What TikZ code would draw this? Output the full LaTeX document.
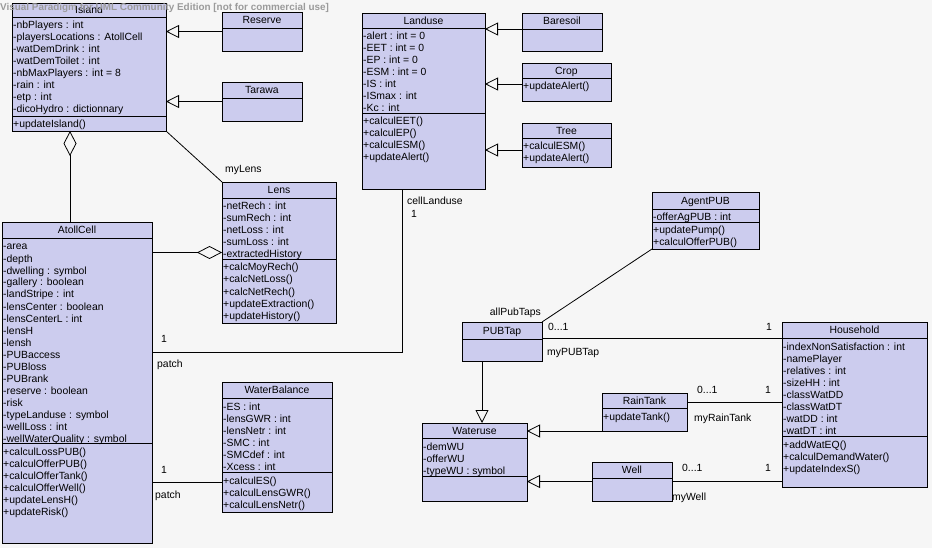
\documentclass[tikz,border=0pt]{standalone}
\usepackage{fontspec}
\setmainfont{Liberation Sans}
\usetikzlibrary{arrows.meta}
\definecolor{bg}{RGB}{246,246,246}
\definecolor{clsfill}{RGB}{204,204,238}
\definecolor{wm}{RGB}{155,155,155}
\tikzset{
  cls/.style={draw=black, fill=clsfill, line width=0.9pt, anchor=north west, inner sep=0pt, outer sep=0pt},
  row/.style={anchor=base west, inner sep=0pt, font=\fontsize{10.4}{12}\selectfont},
  ttl/.style={anchor=base, inner sep=0pt, font=\fontsize{10.4}{12}\selectfont},
  lbl/.style={anchor=base west, inner sep=0pt, font=\fontsize{10.4}{12}\selectfont},
  sepline/.style={line width=0.9pt},
  conn/.style={line width=0.8pt},
  gen/.style={conn, -{Triangle[open, length=13pt, width=13pt]}},
  agg/.style={conn, {Diamond[open, length=25pt, width=13pt]}-},
}
% class box: name, x1, y1, x2, y2, header separator y, title
\newcommand\umlclass[7]{%
  \node[cls, minimum width={(#4-#2)*1pt}, minimum height={(#5-#3)*1pt}] (#1) at (#2,#3) {};
  \draw[sepline] (#2,#6) -- (#4,#6);
  \node[ttl] (#1-title) at ({(#2+#4)/2},{(#3+#6)/2+3.8}) {#7};
}
% separator line: x1, x2, y
\newcommand\compsep[3]{\draw[sepline] (#1,#3) -- (#2,#3);}
% compartment rows: prefix, x, separator y, list
\newcommand\comprows[4]{%
  \foreach \rowtxt [count=\i] in {#4} {\node[row] (#1-\i) at ({#2+1},{#3+12+12*(\i-1)}) {\rowtxt};}
}
\begin{document}
\begin{tikzpicture}[x=1pt, y=-1pt]
\useasboundingbox (0,0) rectangle (932,548);
\fill[bg] (0,0) rectangle (932,548);

% ---------- Island ----------
\umlclass{Island}{12}{3}{166}{131}{17}{Island}
\compsep{12}{166}{116}
\comprows{Island-a}{12}{17}{-nbPlayers : int,-playersLocations : AtollCell,-watDemDrink : int,-watDemToilet : int,-nbMaxPlayers : int = 8,-rain : int,-etp : int,-dicoHydro : dictionnary}
\comprows{Island-m}{12}{116}{+updateIsland()}

% ---------- Reserve / Tarawa ----------
\umlclass{Reserve}{222}{12}{302}{51}{28}{Reserve}
\umlclass{Tarawa}{222}{82}{302}{121}{98}{Tarawa}

% ---------- Landuse ----------
\umlclass{Landuse}{362}{13}{485}{189}{28}{Landuse}
\compsep{362}{485}{113}
\comprows{Landuse-a}{362}{28}{-alert : int = 0,-EET : int = 0,-EP : int = 0,-ESM : int = 0,-IS : int,-ISmax : int,-Kc : int}
\comprows{Landuse-m}{362}{113}{+calculEET(),+calculEP(),+calculESM(),+updateAlert()}

% ---------- Baresoil / Crop / Tree ----------
\umlclass{Baresoil}{522}{13}{602}{51}{29}{Baresoil}
\umlclass{Crop}{522}{63}{611}{101}{78}{Crop}
\comprows{Crop-m}{522}{78}{+updateAlert()}
\umlclass{Tree}{522}{123}{611}{167}{138}{Tree}
\comprows{Tree-m}{522}{138}{+calculESM(),+updateAlert()}

% ---------- AtollCell ----------
\umlclass{AtollCell}{2}{222}{152}{543}{238}{AtollCell}
\compsep{2}{152}{443}
\comprows{AtollCell-a}{2}{238}{-area,-depth,-dwelling : symbol,-gallery : boolean,-landStripe : int,-lensCenter : boolean,-lensCenterL : int,-lensH,-lensh,-PUBaccess,-PUBloss,-PUBrank,-reserve : boolean,-risk,-typeLanduse : symbol,-wellLoss : int,-wellWaterQuality : symbol}
\comprows{AtollCell-m}{2}{443}{+calculLossPUB(),+calculOfferPUB(),+calculOfferTank(),+calculOfferWell(),+updateLensH(),+updateRisk()}

% ---------- Lens ----------
\umlclass{Lens}{222}{182}{336}{323}{198}{Lens}
\compsep{222}{336}{259}
\comprows{Lens-a}{222}{198}{-netRech : int,-sumRech : int,-netLoss : int,-sumLoss : int,-extractedHistory}
\comprows{Lens-m}{222}{259}{+calcMoyRech(),+calcNetLoss(),+calcNetRech(),+updateExtraction(),+updateHistory()}

% ---------- WaterBalance ----------
\umlclass{WaterBalance}{222}{382}{332}{512}{398}{WaterBalance}
\compsep{222}{332}{472}
\comprows{WaterBalance-a}{222}{398}{-ES : int,-lensGWR : int,-lensNetr : int,-SMC : int,-SMCdef : int,-Xcess : int}
\comprows{WaterBalance-m}{222}{472}{+calculES(),+calculLensGWR(),+calculLensNetr()}

% ---------- AgentPUB ----------
\umlclass{AgentPUB}{652}{192}{759}{249}{209}{AgentPUB}
\compsep{652}{759}{222}
\comprows{AgentPUB-a}{652}{209}{-offerAgPUB : int}
\comprows{AgentPUB-m}{652}{222}{+updatePump(),+calculOfferPUB()}

% ---------- PUBTap ----------
\umlclass{PUBTap}{462}{322}{542}{361}{339}{PUBTap}

% ---------- Household ----------
\umlclass{Household}{782}{322}{927}{487}{338}{Household}
\compsep{782}{927}{436}
\comprows{Household-a}{782}{338}{-indexNonSatisfaction : int,-namePlayer,-relatives : int,-sizeHH : int,-classWatDD,-classWatDT,-watDD : int,-watDT : int}
\comprows{Household-m}{782}{436}{+addWatEQ(),+calculDemandWater(),+updateIndexS()}

% ---------- RainTank / Well / Wateruse ----------
\umlclass{RainTank}{602}{393}{687}{431}{408}{RainTank}
\comprows{RainTank-m}{602}{408}{+updateTank()}
\umlclass{Well}{592}{462}{672}{501}{478}{Well}
\umlclass{Wateruse}{422}{423}{527}{501}{438}{Wateruse}
\compsep{422}{527}{476}
\comprows{Wateruse-a}{422}{438}{-demWU,-offerWU,-typeWU : symbol}

% ---------- connectors ----------
% generalizations
\draw[gen] (Reserve.west) -- (Reserve.west -| Island.east);
\draw[gen] (Tarawa.west) -- (Tarawa.west -| Island.east);
\coordinate (bs) at ([yshift=3pt]Baresoil.west);
\draw[gen] (bs) -- (bs -| Landuse.east);
\coordinate (cr) at ([yshift=-2pt]Crop.west);
\draw[gen] (cr) -- (cr -| Landuse.east);
\coordinate (tr) at ([yshift=-5pt]Tree.west);
\draw[gen] (tr) -- (tr -| Landuse.east);
\coordinate (pw) at ([xshift=-20pt]PUBTap.south);
\draw[gen] (pw) -- (pw |- Wateruse.north);
\draw[gen] (RainTank.south west) -- (RainTank.south west -| Wateruse.east);
\draw[gen] (Well.west) -- (Well.west -| Wateruse.east);

% aggregations
\draw[agg] ([xshift=58pt]Island.south west) -- ([xshift=68pt]AtollCell.north west);
\draw[agg] (Lens.west) -- (Lens.west -| AtollCell.east);

% associations
\draw[conn] (Island.south east) -- (Lens.north west);
\node[lbl] (l-mylens) at (225,173) {myLens};

\draw[conn] ([yshift=30.5pt]AtollCell.east) -| ([xshift=-21.5pt]Landuse.south);
\node[lbl] (l-m1) at (161,342) {1};
\node[lbl] (l-patch1) at (157,367) {patch};
\node[lbl] (l-cell) at (407,205) {cellLanduse};
\node[lbl] (l-m2) at (411,218) {1};

\coordinate (wb) at ([yshift=-99.5pt]AtollCell.east);
\draw[conn] (wb) -- (wb -| WaterBalance.west);
\node[lbl] (l-m3) at (161,473) {1};
\node[lbl] (l-patch2) at (155,498) {patch};

\draw[conn] (AgentPUB.south west) -- (PUBTap.north east);
\node[lbl, anchor=base east] (l-allpub) at (541,316) {allPubTaps};

\coordinate (ph) at ([yshift=3.5pt]PUBTap.east);
\draw[conn] (ph) -- (ph -| Household.west);
\node[lbl] (l-m4) at (548,330) {0...1};
\node[lbl] (l-m5) at (766,330) {1};
\node[lbl] (l-mypub) at (547,355) {myPUBTap};

\coordinate (rh) at ([yshift=10pt]RainTank.east);
\draw[conn] (rh) -- (rh -| Household.west);
\node[lbl] (l-m6) at (697,393) {0...1};
\node[lbl] (l-m7) at (765,393) {1};
\node[lbl] (l-myrain) at (694,421) {myRainTank};

\draw[conn] (Well.east) -- (Well.east -| Household.west);
\node[lbl] (l-m8) at (682,471) {0...1};
\node[lbl] (l-m9) at (765,471) {1};
\node[lbl] (l-mywell) at (672,500) {myWell};

% watermark
\node[anchor=base west, inner sep=0pt, text=wm, font=\fontsize{9.9}{12}\selectfont\bfseries] (watermark) at (0,11) {Visual Paradigm for UML Community Edition [not for commercial use]};
\end{tikzpicture}
\end{document}
